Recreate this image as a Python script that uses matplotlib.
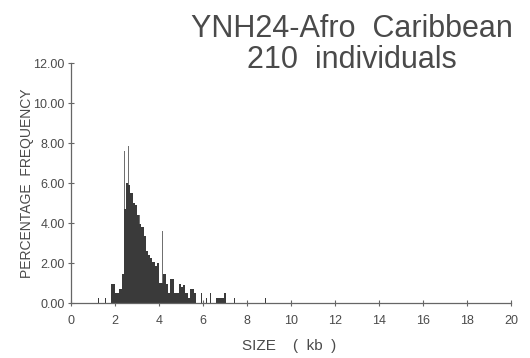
import matplotlib
matplotlib.use("Agg")
import matplotlib.pyplot as plt
from matplotlib import font_manager

# --- DATA ---
# main histogram, 0.1 kb bins, left edges in kb and percentage frequency
bin_left = [1.8, 1.9, 2.0, 2.1, 2.2, 2.3, 2.4, 2.5, 2.6, 2.7,
            2.8, 2.9, 3.0, 3.1, 3.2, 3.3, 3.4, 3.5, 3.6, 3.7,
            3.8, 3.9, 4.0, 4.1, 4.2, 4.3, 4.4, 4.5, 4.6, 4.7,
            4.8, 4.9, 5.0, 5.1, 5.2, 5.3, 5.4, 5.5, 5.6,
            6.6, 6.7, 6.8, 6.9]
bin_pct = [0.95, 0.95, 0.48, 0.48, 0.71, 1.43, 4.70, 6.02, 5.90, 5.48,
           5.00, 4.90, 4.40, 3.93, 3.81, 3.33, 2.62, 2.38, 2.26, 2.05,
           1.86, 2.00, 1.00, 1.00, 1.45, 0.95, 0.48, 1.19, 1.19, 0.48,
           0.48, 0.95, 0.78, 0.90, 0.48, 0.24, 0.71, 0.71, 0.48,
           0.24, 0.24, 0.24, 0.24]

# isolated single-size alleles (thin bars)
single_kb = [1.25, 1.55, 5.95, 6.15, 6.35, 7.0, 7.45, 8.85]
single_pct = [0.24, 0.24, 0.48, 0.24, 0.48, 0.48, 0.24, 0.24]

# sharp peaks rising above the histogram
spike_kb = [1.91, 2.43, 2.63, 2.95, 3.13, 4.15]
spike_pct = [2.86, 7.62, 7.86, 5.48, 4.40, 3.60]

x_ticks = list(range(0, 21, 2))
y_ticks = [0, 2, 4, 6, 8, 10, 12]
y_tick_labels = ["0.00", "2.00", "4.00", "6.00", "8.00", "10.00", "12.00"]

# --- FONTS ---
names = {f.name for f in font_manager.fontManager.ttflist}
narrow = "Liberation Sans Narrow" if "Liberation Sans Narrow" in names else "Liberation Sans"
plt.rcParams["font.family"] = ["Liberation Sans", "DejaVu Sans"]

INK = "#4a4a4a"
BAR = "#3a3a3a"

# --- PLOTTING ---
fig = plt.figure(figsize=(5.30, 3.58), dpi=100)
fig.patch.set_facecolor("white")
ax = fig.add_axes([71 / 530, 1 - 303 / 358, 440 / 530, 240 / 358])

ax.bar(spike_kb, spike_pct, width=0.035, align="center", color="#707070",
       linewidth=0, zorder=1)
ax.bar(bin_left, bin_pct, width=0.1, align="edge", color=BAR, linewidth=0, zorder=2)
ax.bar(single_kb, single_pct, width=0.05, align="center", color=BAR,
       linewidth=0, zorder=2)

ax.set_xlim(0, 20)
ax.set_ylim(0, 12)
ax.set_xticks(x_ticks)
ax.set_yticks(y_ticks)
ax.set_yticklabels(y_tick_labels)

for side in ("top", "right"):
    ax.spines[side].set_visible(False)
for side in ("left", "bottom"):
    ax.spines[side].set_color("#666666")
    ax.spines[side].set_linewidth(0.9)

ax.tick_params(axis="both", direction="inout", length=5, width=0.8,
               color="#666666", labelcolor=INK, labelsize=9)
ax.tick_params(axis="y", pad=2)
ax.tick_params(axis="x", pad=6)
for lab in ax.get_xticklabels() + ax.get_yticklabels():
    lab.set_family(narrow)

ax.set_ylabel("PERCENTAGE  FREQUENCY", family=narrow, fontsize=10,
              color=INK, va="center")
ax.yaxis.set_label_coords((27 - 71) / 440, 0.5)
ax.set_xlabel("SIZE    (  kb  )", family=narrow, fontsize=11,
              color=INK, va="center")
ax.xaxis.set_label_coords(0.495, -(346 - 303) / 240)

fig.text(352 / 530, 1 - 37 / 358, "YNH24-Afro  Caribbean", ha="center",
         va="baseline", fontsize=22, color=INK)
fig.text(352 / 530, 1 - 68 / 358, "210  individuals", ha="center",
         va="baseline", fontsize=22, color=INK)

fig.savefig("out.png", dpi=100, facecolor="white")
plt.close(fig)
